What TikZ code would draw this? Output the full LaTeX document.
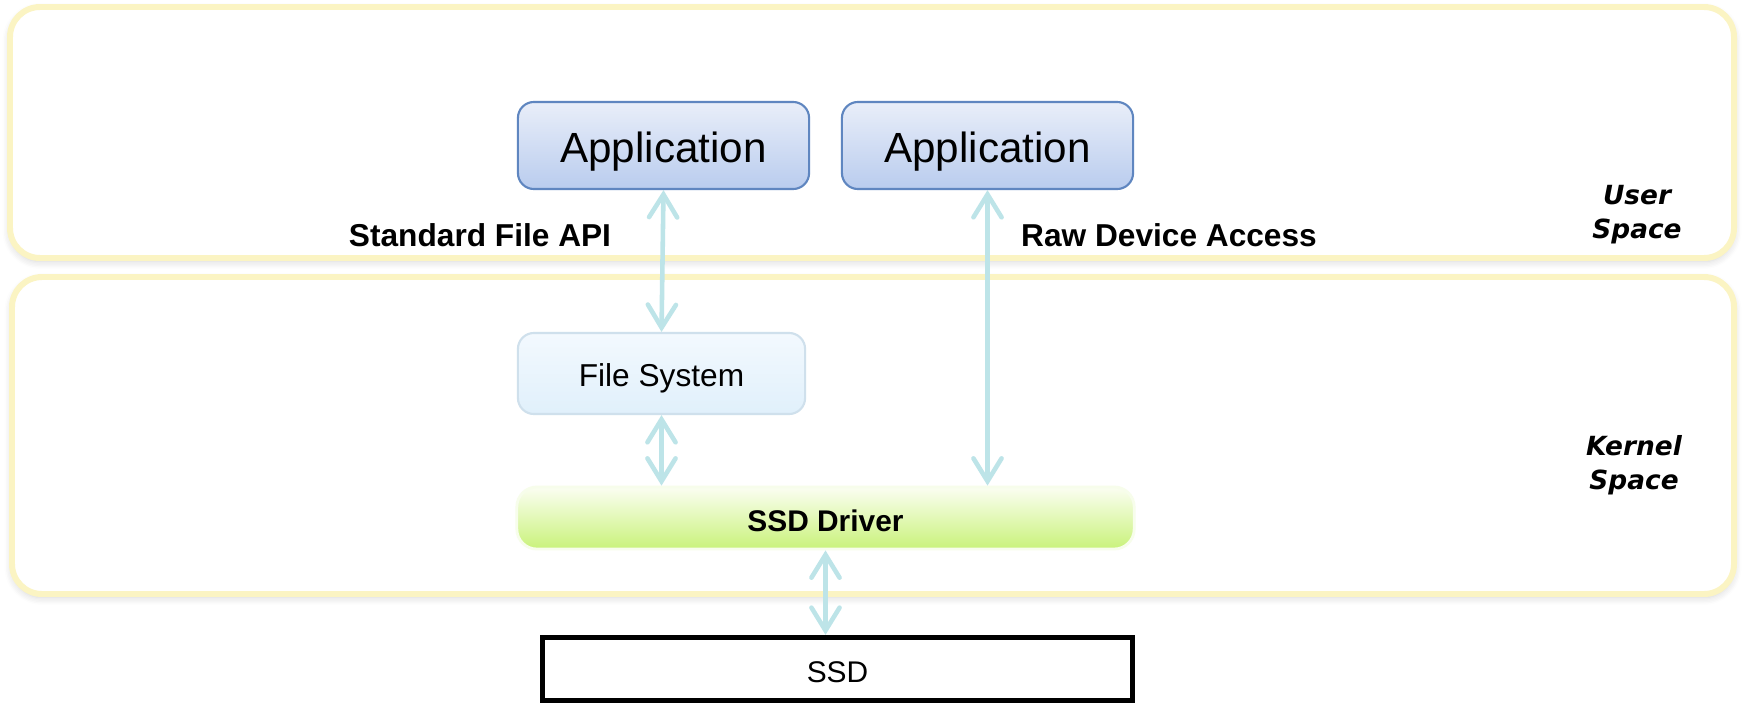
\documentclass[tikz,border=0pt]{standalone}
\usepackage{fontspec}
\setmainfont{Liberation Sans}
\newfontfamily\labelfont{DejaVu Sans}
\usetikzlibrary{arrows.meta,shadows.blur}

\definecolor{spaceyellow}{HTML}{FBF4C3}
\definecolor{apptop}{HTML}{E9EEF9}
\definecolor{appbottom}{HTML}{B9CCEE}
\definecolor{appborder}{HTML}{5F86C0}
\definecolor{fstop}{HTML}{F3F9FE}
\definecolor{fsbottom}{HTML}{E0F0FB}
\definecolor{fsborder}{HTML}{CFE0EC}
\definecolor{drvtop}{HTML}{FBFEF2}
\definecolor{drvbottom}{HTML}{C9F27A}
\definecolor{linkcyan}{HTML}{BDE4E8}

\tikzset{
  spacebox/.style={draw=spaceyellow, line width=1.7pt, rounded corners=0.3cm, fill=white,
    blur shadow={shadow xshift=0pt, shadow yshift=-1pt, shadow opacity=18, shadow blur steps=6}},
  appbox/.style={draw=appborder, line width=0.6pt, rounded corners=0.16cm,
    top color=apptop, bottom color=appbottom, minimum width=2.91cm, minimum height=0.87cm,
    text height=1.95ex, text depth=0.1ex, font=\fontsize{12}{14}\selectfont},
  fsbox/.style={draw=fsborder, line width=0.6pt, rounded corners=0.16cm,
    top color=fstop, bottom color=fsbottom, minimum width=2.87cm, minimum height=0.81cm,
    text height=1.55ex, text depth=0.1ex, font=\fontsize{9}{11}\selectfont},
  drvbox/.style={draw=white!85!drvbottom, line width=0.8pt, rounded corners=0.2cm,
    top color=drvtop, bottom color=drvbottom, minimum width=6.17cm, minimum height=0.62cm,
    text height=1.55ex, text depth=0.1ex, font=\bfseries\fontsize{8.5}{10}\selectfont},
  ssdbox/.style={draw=black, line width=1.5pt, fill=white, minimum width=5.89cm, minimum height=0.63cm,
    text height=1.55ex, text depth=0.1ex, font=\fontsize{8.5}{10}\selectfont},
  apilabel/.style={font=\bfseries\fontsize{9}{11}\selectfont},
  spacelabel/.style={font=\labelfont\bfseries\itshape\fontsize{7.5}{9.6}\selectfont, align=center},
  link/.style={draw=linkcyan, line width=1.3pt,
    {Straight Barb[length=6.5pt, width=8pt, line cap=round]}-{Straight Barb[length=6.5pt, width=8pt, line cap=round]}}
}

\begin{document}
\begin{tikzpicture}[x=0.01cm, y=-0.01cm]
			%%%%% START %%%%%
			\useasboundingbox (0,0) rectangle (1743,703);
			
			\draw[spacebox] (10,7) rectangle (1734,258);
			\draw[spacebox] (12,277) rectangle (1734,594);
			
			\node[appbox] (app1) at (663.5,145.5) {Application};
			\node[appbox] (app2) at (987.5,145.5) {Application};
			
			\node[fsbox] (fs) at (661.5,373.5) {File System};
			\node[drvbox] (drv) at (825.5,518) {SSD Driver};
			\node[ssdbox] (ssd) at (837.5,669) {SSD};
			
			\node[apilabel] (stdapi) at (480,235) {Standard File API};
			\node[apilabel] (rawapi) at (1169,235) {Raw Device Access};
			
			\node[spacelabel] (userlbl) at (1637,215) {User\\Space};
			\node[spacelabel] (kernlbl) at (1634,465) {Kernel\\Space};
			
			\draw[link] (app1.south) -- (fs.north);
			\draw[link] (fs.south) -- (fs.south |- drv.north);
			\draw[link] (app2.south) -- (app2.south |- drv.north);
			\draw[link] (drv.south) -- (drv.south |- ssd.north);
			
			%%%%% END %%%%%
\end{tikzpicture}
\end{document}
